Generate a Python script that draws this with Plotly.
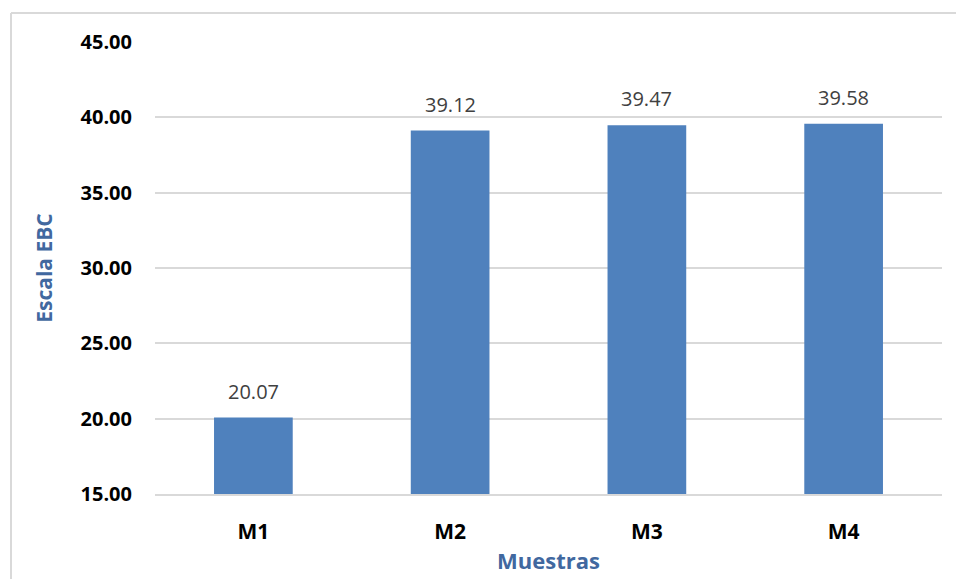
import plotly.graph_objects as go

categories = ["M1", "M2", "M3", "M4"]
values = [20.07, 39.12, 39.47, 39.58]
y_ticks = [15, 20, 25, 30, 35, 40, 45]
y_tick_labels = ["15.00", "20.00", "25.00", "30.00", "35.00", "40.00", "45.00"]

FONT = "'Open Sans', Calibri, Carlito, sans-serif"
TITLE_COLOR = "#41689f"

PW, PH = 787, 452  # plot area size in px (for border placement)

fig = go.Figure()
fig.add_trace(go.Bar(
    x=categories, y=values,
    marker=dict(color="#4f81bd", line=dict(width=0)),
    hoverinfo="skip",
))

for c, v in zip(categories, values):
    fig.add_annotation(x=c, y=v, text=f"{v:.2f}", showarrow=False,
                       yanchor="bottom", yshift=11,
                       font=dict(family=FONT, size=20, color="#404040"))

fig.update_layout(
    width=956, height=579,
    margin=dict(l=155, r=14, t=42, b=85),
    paper_bgcolor="white", plot_bgcolor="white",
    bargap=0.60,
    showlegend=False,
    font=dict(family=FONT),
    shapes=[
        dict(type="line", xref="paper", yref="paper", layer="below",
             x0=-144 / PW, x1=-144 / PW, y0=-120 / PH, y1=1 + 29 / PH,
             line=dict(color="#d9d9d9", width=2)),
        dict(type="line", xref="paper", yref="paper", layer="below",
             x0=-144 / PW, x1=1 + 20 / PW, y0=1 + 29 / PH, y1=1 + 29 / PH,
             line=dict(color="#d9d9d9", width=2)),
    ],
)

fig.update_yaxes(
    range=[15, 45], tickvals=y_ticks, ticktext=y_tick_labels,
    showgrid=True, gridcolor="#d9d9d9", gridwidth=1.5,
    zeroline=False, showline=False, automargin=False,
    ticks="", ticklabelstandoff=22,
    tickfont=dict(family=FONT, size=20, color="black", weight="bold"),
    title=dict(text="Escala EBC", standoff=22,
               font=dict(family=FONT, size=21, color=TITLE_COLOR, weight="bold")),
)
fig.update_xaxes(
    showline=True, linecolor="#d9d9d9", linewidth=1.5, automargin=False,
    ticks="", ticklabelstandoff=18,
    tickfont=dict(family=FONT, size=21, color="black", weight="bold"),
    title=dict(text="Muestras", standoff=10,
               font=dict(family=FONT, size=22, color=TITLE_COLOR, weight="bold")),
)

fig.write_html("out.html")
